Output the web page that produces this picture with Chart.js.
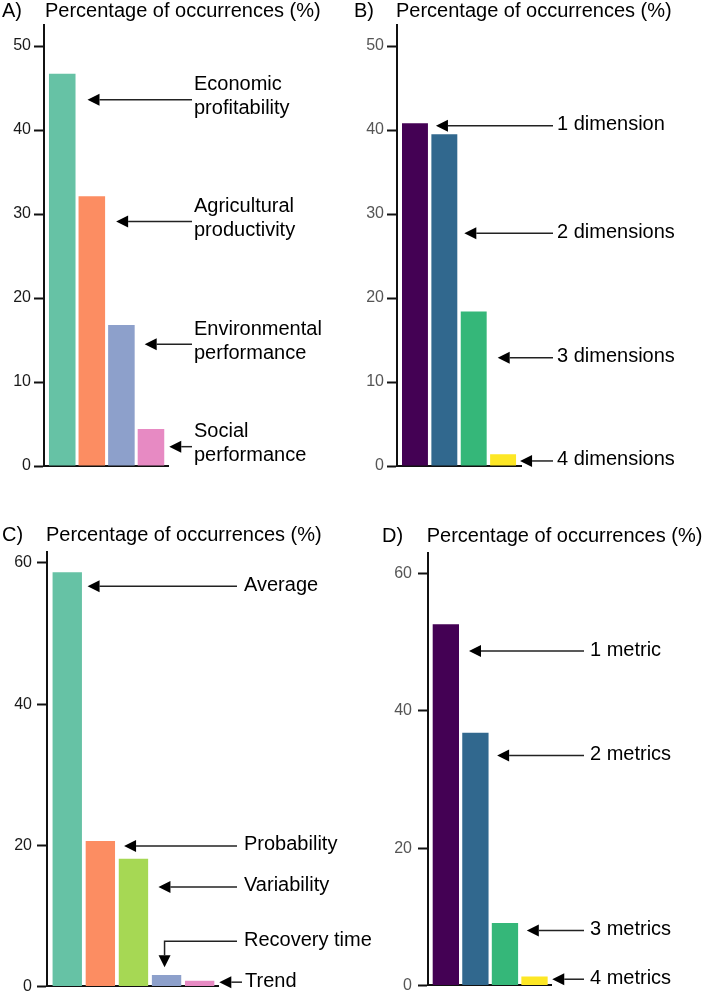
<!DOCTYPE html>
<html>
<head>
<meta charset="utf-8">
<script src="https://cdn.jsdelivr.net/npm/chart.js@4.4.0/dist/chart.umd.min.js"></script>
<style>
    body { margin: 0; background: #fff; }
    #page { position: relative; width: 708px; height: 1001px; overflow: hidden; }
    canvas { position: absolute; }
</style>
</head>
<body>
<div id="page">
    <canvas id="panelA" width="354" height="500" style="left:0;top:0"></canvas>
    <canvas id="panelB" width="354" height="500" style="left:354px;top:0"></canvas>
    <canvas id="panelC" width="420" height="501" style="left:0;top:500px"></canvas>
    <canvas id="panelD" width="354" height="501" style="left:354px;top:500px"></canvas>
</div>
<script>
// A) dimensions of performance
const categoriesA = [['Economic', 'profitability'], ['Agricultural', 'productivity'], ['Environmental', 'performance'], ['Social', 'performance']];
const occurrencesA = [46.7, 32.1, 16.8, 4.4];
const arrowValuesA = [43.6, 29.1, 14.5, 2.3];
const ticksA = [0, 10, 20, 30, 40, 50];

// B) number of dimensions
const categoriesB = [['1 dimension'], ['2 dimensions'], ['3 dimensions'], ['4 dimensions']];
const occurrencesB = [40.8, 39.5, 18.4, 1.4];
const arrowValuesB = [40.5, 27.7, 12.9, 0.6];
const ticksB = [0, 10, 20, 30, 40, 50];

// C) metric types
const categoriesC = [['Average'], ['Probability'], ['Variability'], ['Recovery time'], ['Trend']];
const occurrencesC = [58.7, 20.6, 18.1, 1.6, 0.8];
const arrowValuesC = [56.7, 19.9, 14.1, 6.4, 0.6];
const recoveryTipC = 2.7;
const ticksC = [0, 20, 40, 60];

// D) number of metrics
const categoriesD = [['1 metric'], ['2 metrics'], ['3 metrics'], ['4 metrics']];
const occurrencesD = [52.6, 36.8, 9.1, 1.3];
const arrowValuesD = [48.7, 33.5, 8.0, 0.9];
const ticksD = [0, 20, 40, 60];

const set2 = ['#66c2a5', '#fc8d62', '#8da0cb', '#e78ac3'];
const set2C = ['#66c2a5', '#fc8d62', '#a6d854', '#8da0cb', '#e78ac3'];
const viridis = ['#440154', '#31688e', '#35b779', '#fde725'];
const FONT = '"Liberation Sans", Arial, sans-serif';

// arrows + labels + panel title
const arrowLabels = {
    id: 'arrowLabels',
    afterDraw(chart, args, opts) {
        const ctx = chart.ctx;
        const y = chart.scales.y;
        const bars = chart.getDatasetMeta(0).data;
        ctx.save();
        ctx.font = '20px ' + FONT;
        ctx.fillStyle = '#000';
        ctx.textBaseline = 'alphabetic';
        ctx.fillText(opts.letter, opts.letterX, opts.titleY);
        ctx.fillText('Percentage of occurrences (%)', opts.titleX, opts.titleY);

        ctx.strokeStyle = '#222';
        ctx.lineWidth = 1.5;
        ctx.textBaseline = 'middle';
        const head = 12, half = 6;
        opts.arrows.forEach((a, i) => {
            const bar = bars[i];
            const py = y.getPixelForValue(a.value);
            const tail = a.tailX;
            if (a.elbowTo !== undefined) {
                const cx = bar.x - 2;
                const ty = y.getPixelForValue(a.elbowTo);
                ctx.beginPath();
                ctx.moveTo(tail, py);
                ctx.lineTo(cx, py);
                ctx.lineTo(cx, ty - head);
                ctx.stroke();
                ctx.beginPath();
                ctx.moveTo(cx, ty);
                ctx.lineTo(cx - half, ty - head);
                ctx.lineTo(cx + half, ty - head);
                ctx.closePath();
                ctx.fill();
            } else {
                const tip = bar.x + bar.width / 2 + a.gap;
                ctx.beginPath();
                ctx.moveTo(tail, py);
                ctx.lineTo(tip + head, py);
                ctx.stroke();
                ctx.beginPath();
                ctx.moveTo(tip, py);
                ctx.lineTo(tip + head, py - half);
                ctx.lineTo(tip + head, py + half);
                ctx.closePath();
                ctx.fill();
            }
            if (a.lines.length === 2) {
                ctx.fillText(a.lines[0], a.labelX, py - 15);
                ctx.fillText(a.lines[1], a.labelX, py + 9);
            } else {
                ctx.fillText(a.lines[0], a.labelX, py - 1);
            }
        });
        ctx.restore();
    }
};

function buildPanel(id, cfg) {
    const canvas = document.getElementById(id);
    return new Chart(canvas.getContext('2d'), {
        type: 'bar',
        data: {
            labels: cfg.categories.map(c => c.join(' ')),
            datasets: [{
                data: cfg.values.map((v, i) => ({x: i, y: v})),
                backgroundColor: cfg.colors,
                borderWidth: 0,
                barPercentage: cfg.barPct,
                categoryPercentage: 1,
            }],
        },
        options: {
            responsive: false,
            animation: false,
            layout: {
                padding: {
                    left: 0,
                    top: cfg.plotTop,
                    right: canvas.width - cfg.plotRight,
                    bottom: canvas.height - cfg.plotBottom,
                },
            },
            plugins: {
                legend: {display: false},
                tooltip: {enabled: false},
                arrowLabels: {
                    letter: cfg.letter,
                    letterX: cfg.letterX,
                    titleX: cfg.titleX,
                    titleY: cfg.titleY,
                    arrows: cfg.arrows,
                },
            },
            scales: {
                x: {
                    type: 'linear',
                    offset: false,
                    min: cfg.xMin,
                    max: cfg.xMax,
                    z: 1,
                    ticks: {display: false},
                    grid: {display: false},
                    border: {display: true, color: '#111', width: 2},
                    afterFit: s => { s.height = 0; },
                },
                y: {
                    min: 0,
                    max: cfg.yMax,
                    afterBuildTicks: s => { s.ticks = cfg.ticks.map(v => ({value: v})); },
                    ticks: {color: cfg.tickColor, font: {family: FONT, size: 16}, padding: cfg.tickPad},
                    grid: {drawOnChartArea: false, tickLength: 10, tickWidth: 2, tickColor: '#111'},
                    border: {color: '#111', width: 2},
                    afterFit: s => { s.width = cfg.axisX; },
                },
            },
        },
        plugins: [arrowLabels],
    });
}

buildPanel('panelA', {
    categories: categoriesA, values: occurrencesA, colors: set2, ticks: ticksA,
    yMax: 52.5, axisX: 44, plotTop: 25, plotBottom: 466, plotRight: 168,
    xMin: -0.617, xMax: 3.576, barPct: 0.898,
    tickColor: '#1a1a1a', tickPad: 3,
    letter: 'A)', letterX: 2, titleX: 45, titleY: 17,
    arrows: categoriesA.map((lines, i) => ({lines, value: arrowValuesA[i], gap: [12, 11, 10, 5][i], tailX: 192, labelX: 194})),
});

buildPanel('panelB', {
    categories: categoriesB, values: occurrencesB, colors: viridis, ticks: ticksB,
    yMax: 52.5, axisX: 43, plotTop: 25, plotBottom: 466, plotRight: 167,
    xMin: -0.612, xMax: 3.61, barPct: 0.883,
    tickColor: '#555', tickPad: 3,
    letter: 'B)', letterX: 0, titleX: 42, titleY: 17,
    arrows: categoriesB.map((lines, i) => ({lines, value: arrowValuesB[i], gap: [8, 7, 11, 4][i], tailX: 199, labelX: 203})),
});

buildPanel('panelC', {
    categories: categoriesC, values: occurrencesC, colors: set2C, ticks: ticksC,
    yMax: 61.6, axisX: 47, plotTop: 51.7, plotBottom: 491.7, plotRight: 218,
    xMin: -0.612, xMax: 4.554, barPct: 0.887,
    tickColor: '#1a1a1a', tickPad: 5,
    letter: 'C)', letterX: 2, titleX: 46, titleY: 40.7,
    arrows: categoriesC.map((lines, i) => ({
        lines, value: arrowValuesC[i], gap: [5.6, 9, 10.3, 0, 5][i],
        tailX: i === 4 ? 242 : 237, labelX: i === 4 ? 245 : 244,
        elbowTo: i === 3 ? recoveryTipC : undefined,
    })),
});

buildPanel('panelD', {
    categories: categoriesD, values: occurrencesD, colors: viridis, ticks: ticksD,
    yMax: 62.95, axisX: 74, plotTop: 53.3, plotBottom: 492.7, plotRight: 197,
    xMin: -0.604, xMax: 3.558, barPct: 0.89,
    tickColor: '#555', tickPad: 6,
    letter: 'D)', letterX: 28, titleX: 72.7, titleY: 41.7,
    arrows: categoriesD.map((lines, i) => ({lines, value: arrowValuesD[i], gap: [10, 8.6, 8.7, 4.6][i], tailX: 230, labelX: 236})),
});
</script>
</body>
</html>
